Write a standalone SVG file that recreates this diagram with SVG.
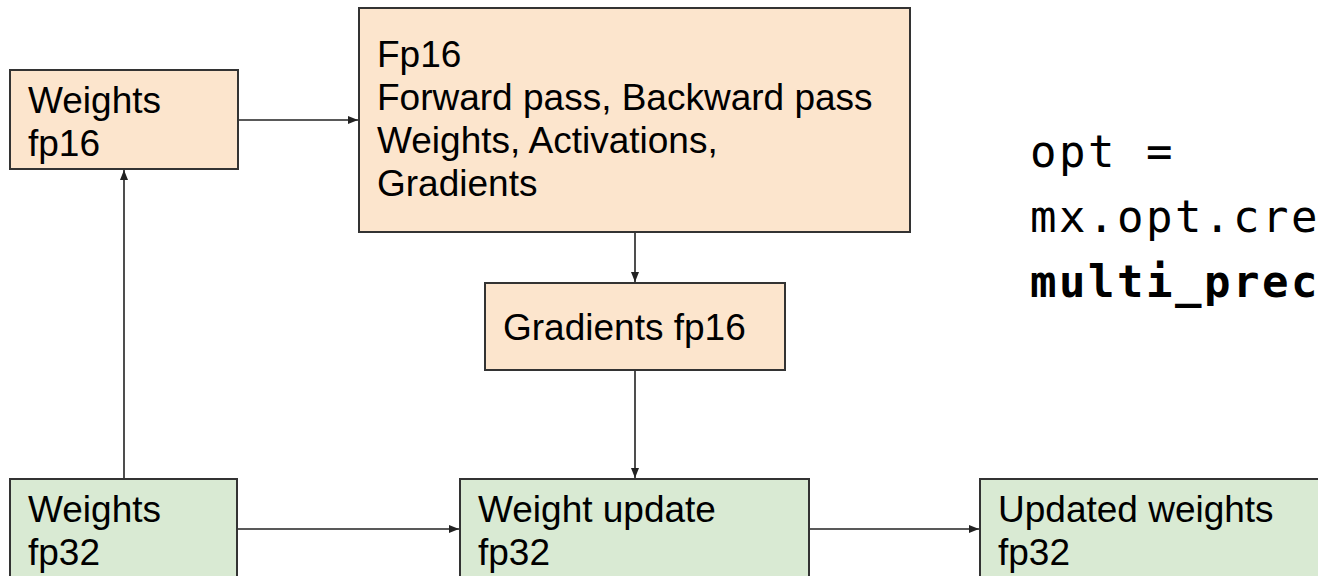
<svg xmlns="http://www.w3.org/2000/svg" width="1318" height="576" viewBox="0 0 1318 576">
<style>
.peach{fill:#fce5cd;stroke:#333333;stroke-width:2}
.green{fill:#d9ead3;stroke:#333333;stroke-width:2}
.t{font-family:"Liberation Sans",Arial,sans-serif;font-size:37px;fill:#000}
.code{font-family:"DejaVu Sans Mono",monospace;font-size:44px;fill:#000;letter-spacing:2.5px}
.conn{stroke:#222222;stroke-width:1.6;fill:none;marker-end:url(#ah)}
</style>
<defs>
<marker id="ah" viewBox="0 0 10 10" refX="10" refY="5" markerWidth="10" markerHeight="10" markerUnits="userSpaceOnUse" orient="auto">
<path d="M0,1 L10,5 L0,9 Z" fill="#222222"/>
</marker>
</defs>
<rect width="1318" height="576" fill="#ffffff"/>
<g id="connectors">
<line class="conn" x1="238" y1="120" x2="358" y2="120"/>
<line class="conn" x1="635" y1="232" x2="635" y2="282"/>
<line class="conn" x1="635" y1="370" x2="635" y2="478"/>
<line class="conn" x1="124" y1="479" x2="124" y2="170"/>
<line class="conn" x1="237" y1="529" x2="459" y2="529"/>
<line class="conn" x1="809" y1="529" x2="979" y2="529"/>
</g>
<g id="weights-fp16">
<rect class="peach" x="10" y="70" width="228" height="99"/>
<text class="t" x="28" y="113">Weights</text>
<text class="t" x="28" y="156">fp16</text>
</g>
<g id="fp16-pass">
<rect class="peach" x="359" y="8" width="551" height="224"/>
<text class="t" x="377" y="67">Fp16</text>
<text class="t" x="377" y="110">Forward pass, Backward pass</text>
<text class="t" x="377" y="153">Weights, Activations,</text>
<text class="t" x="377" y="196">Gradients</text>
</g>
<g id="gradients-fp16">
<rect class="peach" x="485" y="283" width="300" height="87"/>
<text class="t" x="503" y="340">Gradients fp16</text>
</g>
<g id="weights-fp32">
<rect class="green" x="10" y="479" width="227" height="110"/>
<text class="t" x="28" y="522">Weights</text>
<text class="t" x="28" y="565">fp32</text>
</g>
<g id="weight-update">
<rect class="green" x="460" y="479" width="349" height="110"/>
<text class="t" x="478" y="522">Weight update</text>
<text class="t" x="478" y="565">fp32</text>
</g>
<g id="updated-weights">
<rect class="green" x="980" y="479" width="360" height="110"/>
<text class="t" x="998" y="522">Updated weights</text>
<text class="t" x="998" y="565">fp32</text>
</g>
<g id="code">
<text class="code" x="1030" y="167">opt =</text>
<text class="code" x="1030" y="232">mx.opt.cre</text>
<text class="code" x="1030" y="297" font-weight="bold">multi_prec</text>
</g>
</svg>
